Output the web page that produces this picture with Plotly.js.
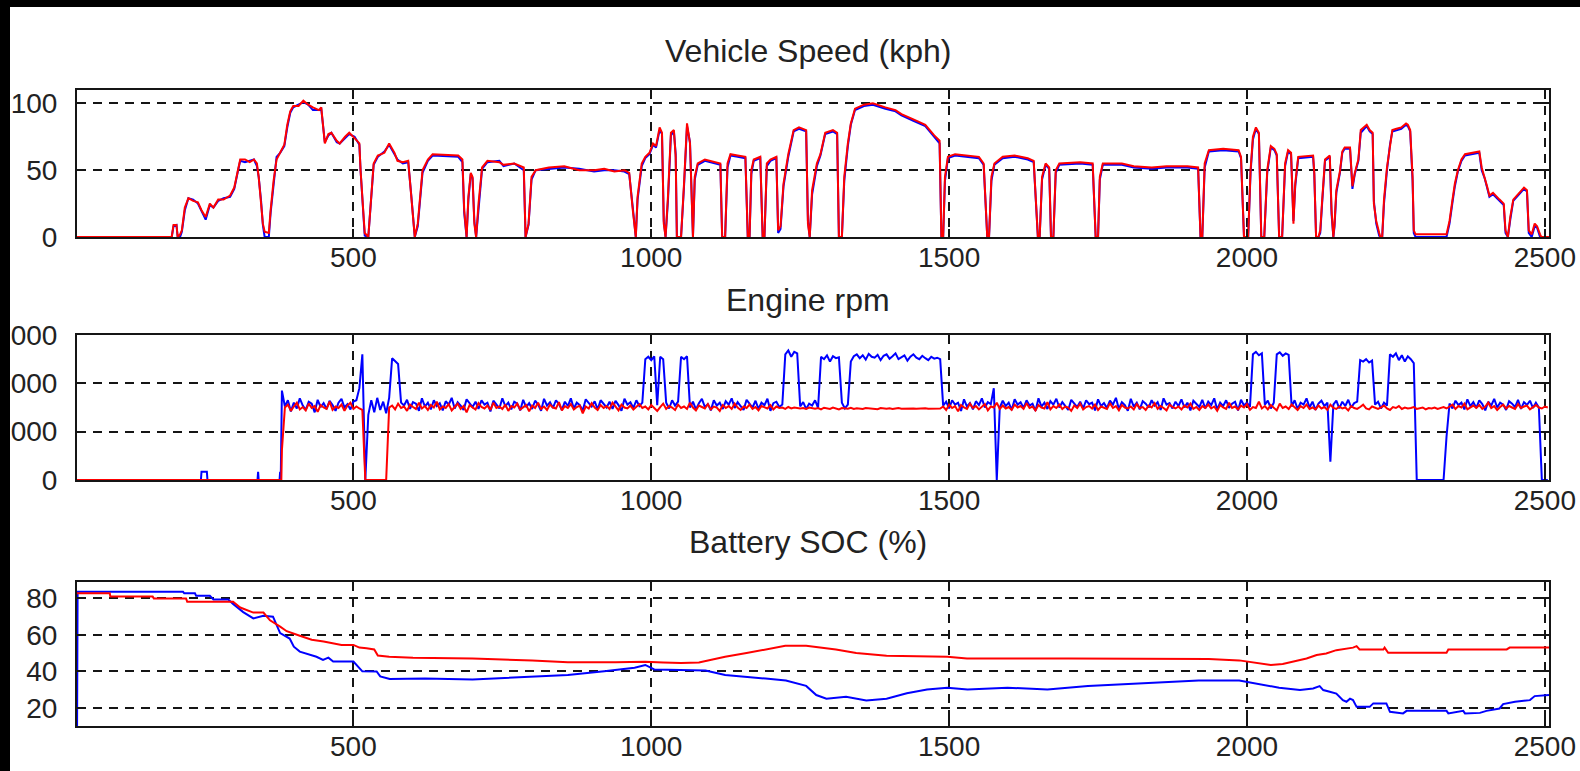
<!DOCTYPE html>
<html><head><meta charset="utf-8">
<script src="https://cdn.plot.ly/plotly-3.0.1.min.js"></script>
<style>
html,body{margin:0;padding:0;background:#fff;overflow:hidden;width:1580px;height:771px}
#chart{position:absolute;left:0;top:0;width:1580px;height:771px}
.band{position:absolute;background:#000;z-index:10}
</style></head><body>
<div id="chart"></div>
<div class="band" style="left:0;top:0;width:1580px;height:7px"></div>
<div class="band" style="left:0;top:0;width:10px;height:771px"></div>
<script>
// ---------------- data ----------------
const panelTitles = ["Vehicle Speed (kph)", "Engine rpm", "Battery SOC (%)"];
const timeTicks = [500, 1000, 1500, 2000, 2500];
const speedTicks = [0, 50, 100];
const rpmTicks = [0, 1000, 2000, 3000];
const socTicks = [20, 40, 60, 80];

// Vehicle speed (kph): breakpoints in time (s)
const speedTime = [
36,195,198,203,205,209,212,217,223,231,
239,245,252,259,265,273,282,293,300,306,
310,318,326,333,338,341,345,348,351,358,
361,366,371,377,384,389,394,399,408,416,
424,432,442,446,452,458,463,472,477,486,
493,502,510,512,516,519,525,528,534,541,
552,560,569,574,583,592,597,603,608,616,
625,633,676,683,686,690,693,697,700,703,
706,710,716,725,745,752,770,786,789,794,
799,806,828,854,879,904,921,938,955,963,
969,974,977,984,990,997,1003,1008,1014,1018,
1021,1024,1028,1033,1038,1041,1043,1050,1055,1060,
1065,1070,1073,1078,1090,1105,1116,1119,1124,1128,
1133,1145,1158,1162,1165,1168,1172,1183,1187,1190,
1194,1200,1210,1213,1217,1222,1230,1239,1248,1260,
1263,1266,1270,1278,1284,1292,1305,1312,1315,1320,
1324,1330,1335,1342,1357,1372,1385,1393,1410,1420,
1440,1460,1475,1484,1487,1490,1493,1498,1510,1530,
1550,1558,1564,1567,1571,1576,1590,1610,1632,1642,
1649,1652,1656,1662,1668,1671,1675,1679,1685,1720,
1741,1746,1750,1753,1758,1790,1810,1840,1865,1900,
1918,1922,1925,1929,1936,1960,1986,1990,1995,2002,
2006,2010,2015,2020,2024,2029,2034,2040,2046,2050,
2054,2059,2064,2069,2074,2078,2081,2086,2111,2113,
2116,2120,2123,2126,2131,2139,2142,2145,2147,2150,
2156,2160,2164,2173,2175,2177,2181,2187,2191,2198,
2201,2206,2211,2213,2217,2222,2224,2227,2230,2235,
2240,2244,2251,2259,2267,2270,2274,2278,2280,2283,
2335,2340,2345,2349,2354,2360,2366,2380,2390,2394,
2399,2403,2407,2413,2424,2431,2434,2438,2442,2447,
2465,2470,2473,2478,2483,2487,2492,2494,2507];
const speedRed = [
0,0,9,9,0,2,5,22,29,27,
26,20,15,25,22,28,28,31,37,50,
58,58,56,58,55,45,28,10,4,3,
20,42,58,63,69,84,94,98,98,102,
99,97,95,97,70,77,78,72,70,75,
78,74,70,50,20,3,0,20,55,61,
63,70,63,57,56,57,30,0,10,50,
58,62,61,58,20,0,30,48,45,10,
0,25,52,57,56,54,55,52,0,10,
45,50,52,53,50,50,51,49,50,48,
20,0,30,55,60,63,70,68,82,78,
10,0,30,78,80,60,0,0,40,85,
70,0,45,55,58,56,55,0,0,55,
62,61,60,0,0,50,58,60,0,0,
55,58,60,5,8,40,62,80,82,80,
10,0,35,55,62,78,80,78,0,0,
45,70,85,96,99,100,98,97,95,92,
88,84,76,72,0,0,45,60,62,61,
60,55,0,0,45,55,60,61,59,57,
0,0,45,55,52,0,0,50,55,56,
55,0,0,45,55,55,53,52,53,53,
52,0,0,55,65,66,65,60,0,0,
50,75,82,78,0,0,50,68,66,62,
0,0,55,65,63,10,40,60,61,48,
0,0,5,26,58,61,20,0,10,35,
49,64,67,67,52,38,48,58,80,83,
84,80,78,25,12,3,0,0,28,52,
70,80,81,82,85,84,80,45,5,2,
2,12,28,40,50,58,62,63,64,52,
45,38,31,33,28,25,5,0,15,28,
37,35,5,2,10,8,2,0,0];
const speedBlue = [
0,0,8,9,0,0,4,20,29,28,
25,20,13,24,22,27,29,30,36,49,
57,56,57,58,53,45,27,9,0,0,
18,40,60,63,68,82,93,97,99,101,
99,95,95,96,71,76,78,71,70,74,
77,75,69,50,22,1,0,19,54,60,
64,69,62,58,55,56,32,0,8,48,
57,61,60,56,18,0,28,47,44,12,
0,22,51,56,57,53,55,50,0,9,
43,50,51,52,51,49,50,50,49,47,
22,0,28,53,59,62,69,67,80,77,
12,0,27,76,79,62,0,0,38,83,
71,0,43,54,57,55,54,0,0,52,
61,60,59,0,0,47,57,59,0,0,
53,57,59,3,6,38,60,79,81,79,
12,0,32,53,61,77,79,77,0,0,
42,68,84,95,98,99,97,96,94,91,
87,83,75,70,0,0,42,59,61,60,
59,54,0,0,42,54,59,60,58,56,
0,0,43,54,51,0,0,48,54,55,
54,0,0,43,54,54,52,51,52,52,
51,0,0,52,64,65,64,59,0,0,
48,73,81,77,0,0,48,67,65,61,
0,0,53,64,62,12,38,59,60,47,
0,0,3,24,57,60,17,0,8,33,
48,63,66,66,51,36,47,57,78,82,
83,79,77,27,10,1,0,0,25,50,
69,79,80,81,84,83,79,42,3,0,
0,10,26,38,49,57,61,62,63,50,
44,37,30,32,27,24,3,0,13,27,
36,34,3,0,8,7,0,0,0];

// Engine rpm: idle part (breakpoints) + sampled part (every 5 s from 380 s)
const rpmBlueIdleTime = [36,244,245,254,255,339,340,341,376,377,378];
const rpmBlueIdle     = [0,0,170,170,0,0,170,0,0,170,0];
const rpmRedIdleTime  = [36,379];
const rpmRedIdle      = [0,0];
const rpmSampleStart = 380, rpmSampleStep = 5;
const rpmBlue = [
1850,1520,1650,1420,1600,1480,1690,1540,1450,1620,1580,1400,1660,1510,1590,1470,1640,1550,1430,1600,1680,1500,1570,1460,1620,
1650,1900,2600,0,1350,1650,1400,1700,1450,1620,1380,1700,2520,2450,2400,1600,
1540,1660,1470,1610,1580,1430,1690,1520,1600,1460,
1650,1530,1590,1440,1630,1560,1700,1480,1610,1540,
1450,1670,1580,1510,1620,1470,1650,1560,1600,1420,
1640,1550,1480,1690,1530,1600,1460,1620,1580,1440,
1660,1510,1590,1470,1640,1560,1430,1680,1540,1610,
1490,1650,1570,1450,1620,1530,1690,1480,1600,1550,
1440,1670,1590,1520,1630,1460,1650,1580,1500,1620,
1470,1640,1550,1430,1680,1560,1610,1490,1650,1530,
1600,
2500,2550,2480,2560,1550,2550,2500,1600,1480,1650,1540,1620,2550,2500,2560,1500,
1620,1460,1590,1680,1510,1570,1440,1650,1540,1600,
1470,1630,1560,1690,1490,1610,1530,1450,1660,1580,
1500,1640,1470,1600,1550,1680,1430,1590,1620,1510,
1560,
2600,2680,2550,2650,2620,
1520,1610,1470,1580,1540,1650,1490,
2550,2500,2580,2450,2560,2520,2540,
1600,1480,1560,
2450,2560,2600,2520,2580,2490,2610,2550,2530,2590,
2480,2570,2600,2510,2560,2620,2500,2540,2580,2470,
2550,2600,2530,2500,2570,2520,2480,2550,2510,2530,
2500,
1540,1620,1480,1650,1560,1600,1430,1670,1520,1590,1460,1630,1550,1690,1500,1610,1570,
1900,0,1500,
1640,1530,1600,1450,1670,1560,1610,1490,1650,1540,
1580,1430,1690,1520,1600,1470,1630,1560,1680,1500,
1610,1540,1450,1660,1580,1510,1620,1480,1650,1570,
1600,1440,1670,1530,1590,1490,1640,1560,1700,1470,
1610,1550,1430,1680,1520,1600,1460,1630,1580,1500,
1650,1540,1610,1450,1690,1560,1590,1480,1620,1530,
1670,1500,1600,1440,1640,1570,1510,1660,1480,1620,
1550,1690,1460,1600,1530,1650,1490,1580,1620,1440,
1660,1540,1600,1510,
2600,2650,2580,2620,
1560,1640,1480,1600,
2600,2640,2570,2620,2590,
1520,1650,1470,1600,1560,1690,1500,1620,1450,1580,1640,1530,1600,
380,
1560,1640,1480,1620,1530,1660,1500,1590,1620,
2480,2450,2500,2430,2470,
1560,1620,1480,1600,1540,
2600,2550,2620,2480,2580,2450,2560,2500,2420,
0,0,0,0,0,0,0,0,0,0,
900,
1580,1480,1640,1550,1600,1460,1670,1530,1610,1490,
1650,1570,1440,1620,1540,1680,1500,1600,1560,1450,
1630,1580,1510,1660,1470,1610,1550,1640,1490,1600,
1500,0,0,0];
const rpmRed = [
620,1500,1560,1430,1520,1600,1460,1510,1440,1580,1490,1530,1410,1550,1500,1470,1620,1450,1520,1490,1560,1430,1540,1600,1470,1520,1480,
1450,
0,0,0,0,0,0,0,0,
1500,1540,1460,1580,1490,1520,1430,1560,1510,1470,
1600,1480,1530,1450,1550,1500,1620,1460,1520,1490,
1570,1440,1510,1580,1470,1530,1400,1550,1500,1460,
1590,1510,1480,1540,1450,1600,1490,1520,1470,1560,
1430,1530,1500,1580,1460,1510,1550,1420,1540,1490,
1600,1470,1520,1450,1560,1500,1480,1610,1440,1530,
1490,1570,1460,1510,1540,1380,1520,1480,1590,1500,
1450,1550,1490,1530,1470,1600,1510,1440,1560,1500,
1480,1540,1460,1520,1570,1490,
1520,1460,1550,1490,1430,1510,1580,1470,1530,1500,
1450,1560,1490,1520,1470,1600,1500,1440,1540,1510,
1480,1570,1460,1520,1500,1430,1550,1490,1530,1470,
1580,1500,1450,1520,1490,1560,1470,1510,1440,1530,
1500,1480,1550,1460,1520,1490,1500,1470,1510,1480,
1500,1490,
1480,1490,1470,1500,1485,1475,1490,1460,1495,1480,
1470,1500,1485,1460,1490,1480,1475,1495,1470,1485,
1480,1470,1490,1485,1475,1480,1465,1490,1480,1475,
1485,1470,1480,1490,1475,1480,1470,1485,1480,1475,
1480,1470,1485,1475,1480,1470,1490,1480,
1520,1450,1560,1490,1530,1420,1550,1500,1470,1580,
1490,1530,1460,1510,1570,1440,1520,1500,1600,1470,
1540,1480,1510,1450,1560,1500,1530,1470,1590,1490,
1520,1440,1550,1500,1480,1610,1460,1530,1490,1560,
1470,1520,1500,1430,1540,1490,1580,1460,1510,1530,
1480,1560,1450,1520,1500,1470,1590,1490,1530,1440,
1550,1500,1480,1520,1460,1570,1490,1510,1450,1540,
1500,1590,1470,1530,1490,1440,1560,1510,1480,1520,
1460,1540,1500,1580,1470,1510,1450,1530,1490,1560,
1480,1520,1430,1550,1500,1470,1600,1490,1520,1460,
1540,1500,1570,1450,1510,1490,1620,1480,1530,1460,
1550,1500,1440,1580,1490,1520,1470,1560,1500,1450,
1530,1490,1560,1470,
1500,1460,1540,1480,1510,1450,1560,1490,1470,1520,
1480,1500,1440,1530,1490,1470,1510,1560,1480,1460,
1520,1490,1470,1500,1540,1480,1450,1510,1490,1530,
1470,1500,1480,1490,1510,1470,1480,1500,1460,1490,
1480,1500,1470,1490,1510,1480,
1520,1560,1470,1530,1500,1580,1460,1510,1540,1490,
1550,1470,1520,1600,1490,1530,1450,1510,1560,1480,
1530,1500,1470,1570,1490,1520,1540,1460,1510,1550,
1500,1480,1520,1500];

// Battery SOC (%)
const socRedTime = [36,91,92,163,165,219,221,298,310,332,349,360,377,388,410,430,450,480,500,510,522,535,541,560,600,700,800,860,940,990,1020,1050,1080,1124,1160,1192,1225,1260,1290,1310,1344,1395,1497,1530,1700,1936,1987,2020,2040,2060,2089,2100,2117,2133,2150,2178,2184,2189,2229,2231,2237,2335,2338,2436,2441,2507];
const socRed = [82.8,82.8,81,81,80,80,78.2,78.2,75,72.2,72.2,68,64.5,62,59.5,57.3,56.4,54.5,54.5,53,52.7,52,48.7,48,47.5,47,46,45,45,45.2,44.8,44.5,44.8,48,50,52,54,54,53,52,50,48.5,48,47,47,46.8,46,44.5,43.5,44,46,47,48.9,49.8,51.6,53,53.8,52,52,53,50.2,50.2,52,52,53,53];
const socBlueTime = [36,37,214,216,234,236,259,265,290,298,315,332,349,365,377,393,400,410,438,449,458,466,500,515,539,545,561,578,620,700,800,860,921,972,990,1005,1091,1124,1192,1226,1260,1277,1294,1327,1361,1395,1429,1463,1497,1531,1598,1665,1733,1800,1868,1919,1987,2020,2054,2089,2111,2122,2128,2139,2150,2161,2167,2173,2178,2184,2206,2212,2234,2240,2262,2268,2335,2338,2363,2366,2391,2402,2424,2430,2450,2475,2483,2507];
const socBlue = [0,83.6,83.6,82.8,82.8,81.4,81.4,79.4,79.4,77,72.5,69,70.5,70,61,58,53.5,50.8,48,46.3,47.5,45.4,45.4,40,39.9,37.2,35.8,35.8,36,35.5,37,38,40,42,43.5,41,40.5,38,36,35,32,27,25,26,24,25,28,30,31,30,31,30,32,33,34,35,35,33,31,29.7,30.6,31.9,29.7,28.8,27.8,24.2,23.3,25,24.2,20.5,20.5,22.4,22.4,17.8,16.9,18.3,18.3,16.9,18.3,16.9,17.2,18.3,19.6,22,23.3,24.2,26.4,27];

// ---------------- drawing ----------------
const sampleTimes = arr => arr.map((_, i) => rpmSampleStart + i * rpmSampleStep);
const rpmBlueTime = rpmBlueIdleTime.concat(sampleTimes(rpmBlue));
const rpmBlueAll = rpmBlueIdle.concat(rpmBlue);
const rpmRedTime = rpmRedIdleTime.concat(sampleTimes(rpmRed));
const rpmRedAll = rpmRedIdle.concat(rpmRed);

const BLUE = '#0000ff', RED = '#ff0000', INK = '#151515';
const FONT = '"Liberation Sans", Arial, sans-serif';
const W = 1580, H = 771;
const plotL = 77, plotR = 1549, plotT = 90, plotB = 726;
const ph = plotB - plotT;
const dom = (top, bot) => [(plotB - bot) / ph, (plotB - top) / ph];
const py = y => (plotB - y) / ph;

function line(x, y, color, xa, ya) {
  return {x, y, type: 'scatter', mode: 'lines', xaxis: xa, yaxis: ya,
    line: {color, width: 2}, hoverinfo: 'skip', showlegend: false};
}
const traces = [
  line(speedTime, speedBlue, BLUE, 'x', 'y'),
  line(speedTime, speedRed, RED, 'x', 'y'),
  line(rpmBlueTime, rpmBlueAll, BLUE, 'x2', 'y2'),
  line(rpmRedTime, rpmRedAll, RED, 'x2', 'y2'),
  line(socBlueTime, socBlue, BLUE, 'x3', 'y3'),
  line(socRedTime, socRed, RED, 'x3', 'y3')
];

const common = {
  ticks: 'inside', ticklen: 8, tickwidth: 2, tickcolor: INK,
  showline: true, linecolor: INK, linewidth: 2, mirror: 'ticks',
  showgrid: true, gridcolor: INK, gridwidth: 2, griddash: '9px,7px',
  zeroline: false, fixedrange: true,
  tickfont: {family: FONT, size: 28, color: '#222'}
};
const xAxis = anchor => Object.assign({}, common, {
  domain: [0, 1], anchor, range: [36, 2507], tickvals: timeTicks, ticklabelstandoff: -6
});
const yAxis = (anchor, d, range, tickvals) => Object.assign({}, common, {
  domain: d, anchor, range, tickvals, ticklabelstandoff: 12
});

const titleAnn = (text, yPix) => ({
  text, xref: 'paper', yref: 'paper', x: 0.5, y: py(yPix), xshift: -5,
  xanchor: 'center', yanchor: 'middle', showarrow: false,
  font: {family: FONT, size: 32, color: '#222'}
});

const layout = {
  width: W, height: H,
  margin: {l: plotL, r: W - plotR, t: plotT, b: H - plotB, pad: 0},
  paper_bgcolor: '#ffffff', plot_bgcolor: '#ffffff',
  showlegend: false,
  xaxis: xAxis('y'), xaxis2: xAxis('y2'), xaxis3: xAxis('y3'),
  yaxis: yAxis('x', dom(90, 237), [0, 110], speedTicks),
  yaxis2: yAxis('x2', dom(335, 480), [0, 3000], rpmTicks),
  yaxis3: yAxis('x3', dom(582, 726), [10, 89], socTicks),
  annotations: [titleAnn(panelTitles[0], 51), titleAnn(panelTitles[1], 300), titleAnn(panelTitles[2], 542)]
};

Plotly.newPlot('chart', traces, layout, {displayModeBar: false, staticPlot: true});
</script>
</body></html>
